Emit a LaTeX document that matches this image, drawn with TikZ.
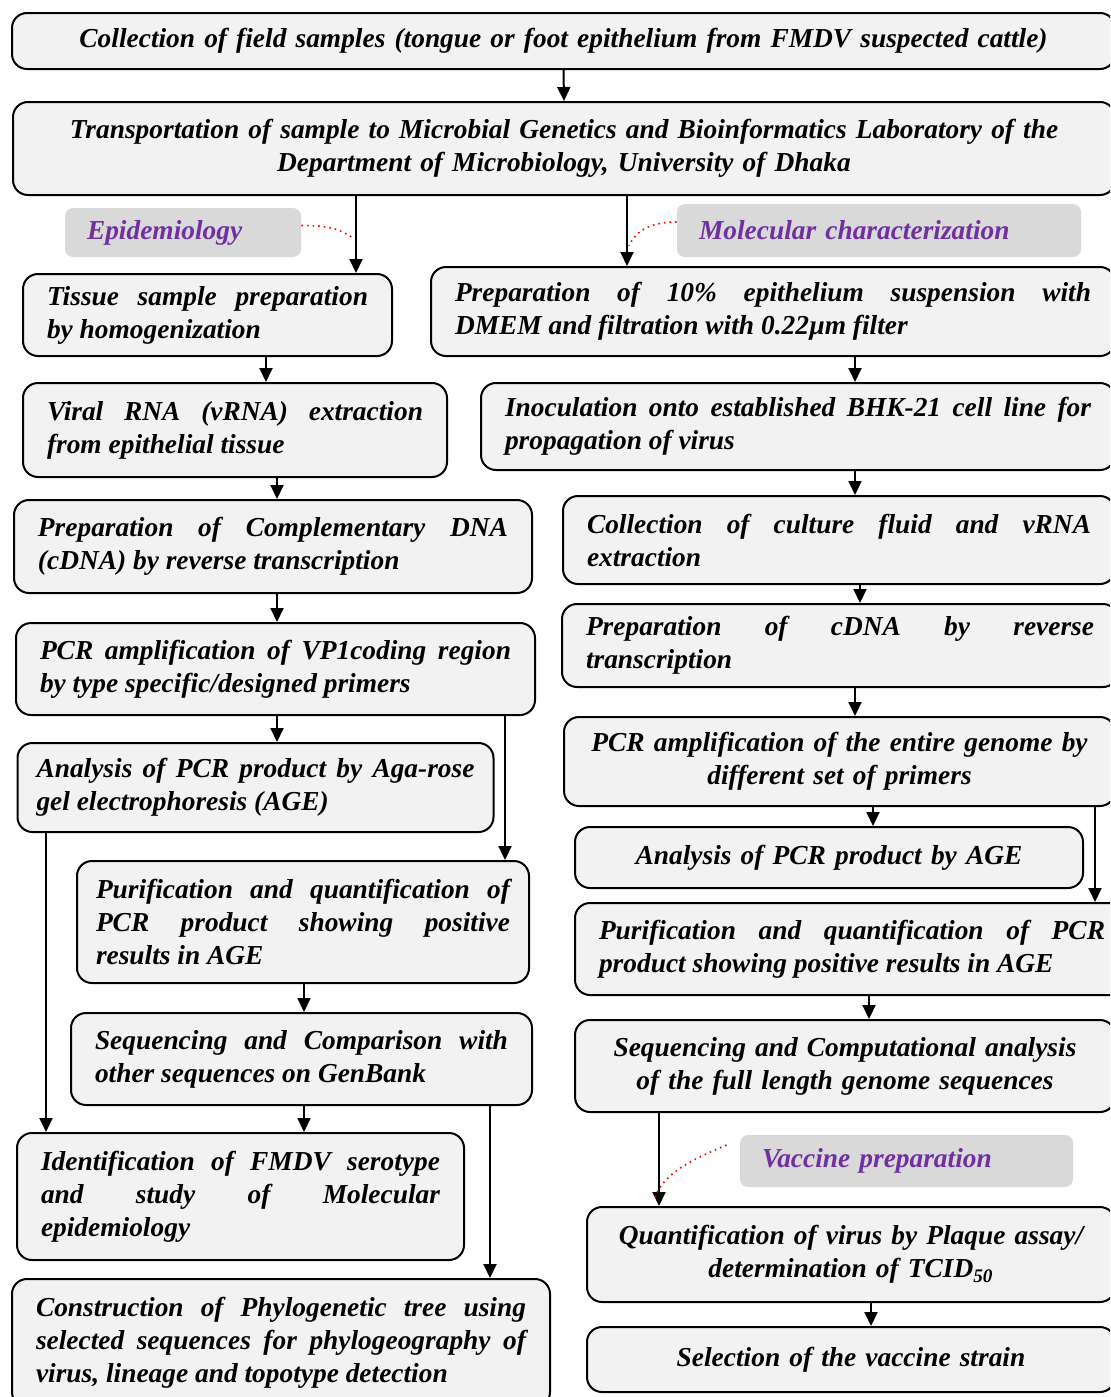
\documentclass[tikz,border=0pt]{standalone}
\usepackage{fontspec}
\setmainfont{Liberation Serif}[BoldItalicFont={Liberation Serif Bold Italic}]
\newfontfamily\stepfont{Liberation Serif Bold Italic}
\usetikzlibrary{arrows.meta,positioning,calc}
\definecolor{boxgray}{HTML}{F2F2F2}
\definecolor{taggray}{HTML}{D9D9D9}
\definecolor{tagpurple}{HTML}{7030A0}
\hyphenpenalty=10000
\exhyphenpenalty=10000

\begin{document}
\begin{tikzpicture}[
  x=0.5pt, y=-0.5pt,
  >={Triangle[length=7pt,width=6.5pt]},
  every node/.style={font=\fontsize{13.7}{16.5}\stepfont},
  box/.style={rounded corners=7.5pt, draw, line width=1pt, fill=boxgray, inner xsep=12pt, inner ysep=0pt},
  jbox/.style={box, align=justify},
  cbox/.style={box, align=center},
  tag/.style={rounded corners=4pt, fill=taggray, text=tagpurple, align=left, inner xsep=11pt, inner ysep=0pt},
  arr/.style={->, line width=1pt},
  note/.style={red, dotted, line width=0.8pt}
]
\useasboundingbox (0,0) rectangle (1110,1397);
\clip (0,0) rectangle (1110,1397);

% common steps
\node[cbox, text width=527.5pt, minimum height=28pt] (collect) at (563.5,41) {Collection of field samples (tongue or foot epithelium from FMDV suspected cattle)};
\node[cbox, text width=527pt, minimum height=46.5pt] (transport) at (564,148.5) {Transportation of sample to Microbial Genetics and Bioinformatics Laboratory of the\\ Department of Microbiology, University of Dhaka};

% section tags
\node[tag, text width=96pt, minimum height=24.5pt] (epi) at (183,232.5) {Epidemiology};
\node[tag, text width=180pt, minimum height=26.5pt] (mol) at (879,230.5) {Molecular characterization};
\node[tag, text width=144.5pt, minimum height=26pt] (vac) at (906.5,1161) {Vaccine preparation};

% epidemiology branch
\node[jbox, text width=160.5pt, minimum height=41pt] (tissue) at (207.5,315) {Tissue sample preparation\linebreak by homogenization};
\node[jbox, text width=188pt, minimum height=47pt] (viral) at (235,430) {Viral RNA (vRNA) extraction\linebreak from epithelial tissue};
\node[jbox, text width=235pt, minimum height=46.5pt] (cdna) at (273,546.5) {Preparation of Complementary DNA\linebreak (cDNA) by reverse transcription};
\node[jbox, text width=235.5pt, minimum height=46pt] (pcr) at (275.5,669) {PCR amplification of VP1coding region\linebreak by type specific/designed primers};
\node[jbox, text width=219pt, inner xsep=9.5pt, minimum height=44.5pt] (age) at (255.5,787.5) {Analysis of PCR product by Aga-rose\linebreak gel electrophoresis (AGE)};
\node[jbox, text width=207pt, inner xsep=9.5pt, minimum height=61pt] (purL) at (303,922) {Purification and quantification of\linebreak PCR product showing positive\linebreak results in AGE};
\node[jbox, text width=206.5pt, minimum height=46pt] (seqL) at (301.5,1059) {Sequencing and Comparison with\linebreak other sequences on GenBank};
\node[jbox, text width=199.5pt, minimum height=63.5pt] (ident) at (240.5,1196.5) {Identification of FMDV serotype\linebreak and study of Molecular\linebreak epidemiology};
\node[jbox, text width=245pt, minimum height=64pt] (constr) at (281,1343) {Construction of Phylogenetic tree using\linebreak selected sequences for phylogeography of\linebreak virus, lineage and topotype detection};

% molecular characterization branch
\node[jbox, text width=318pt, minimum height=44.5pt] (prep) at (773,311.5) {Preparation of 10\% epithelium suspension with\linebreak DMEM and filtration with 0.22µm filter};
\node[jbox, text width=293pt, minimum height=43.5pt] (inoc) at (798,426.5) {Inoculation onto established BHK-21 cell line for\linebreak propagation of virus};
\node[jbox, text width=252pt, minimum height=44pt] (fluid) at (839,540) {Collection of culture fluid and vRNA\linebreak extraction};
\node[jbox, text width=254pt, minimum height=41.5pt] (cdnaR) at (840,645.5) {Preparation of cDNA by reverse\linebreak transcription};
\node[cbox, text width=251.5pt, minimum height=44.5pt] (pcrR) at (839.5,761.5) {PCR amplification of the entire genome by\\ different set of primers};
\node[cbox, text width=230pt, minimum height=30.5pt] (ageR) at (829,857.5) {Analysis of PCR product by AGE};
\node[jbox, text width=253pt, minimum height=46pt] (purR) at (852,949) {Purification and quantification of PCR\linebreak product showing positive results in AGE};
\node[cbox, text width=246pt, minimum height=46pt] (seqR) at (845,1066) {Sequencing and Computational analysis\\ of the full length genome sequences};

% vaccine preparation
\node[cbox, text width=240pt, minimum height=47.5pt] (quant) at (851,1254.5) {Quantification of virus by Plaque assay/\\ determination of TCID\textsubscript{50}};
\node[cbox, text width=240pt, minimum height=32.5pt] (select) at (851,1359.5) {Selection of the vaccine strain};

% arrows
\draw[arr] (collect.south) -- (transport.north);
\draw[arr] (356,0 |- transport.south) -- (356,0 |- tissue.north);
\draw[arr] (627,0 |- transport.south) -- (627,0 |- prep.north);
\draw[arr] (266,0 |- tissue.south) -- (266,0 |- viral.north);
\draw[arr] (277,0 |- viral.south) -- (277,0 |- cdna.north);
\draw[arr] (277,0 |- cdna.south) -- (277,0 |- pcr.north);
\draw[arr] (277,0 |- pcr.south) -- (277,0 |- age.north);
\draw[arr] (505,0 |- pcr.south) -- (505,0 |- purL.north);
\draw[arr] (304,0 |- purL.south) -- (304,0 |- seqL.north);
\draw[arr] (46,0 |- age.south) -- (46,0 |- ident.north);
\draw[arr] (304,0 |- seqL.south) -- (304,0 |- ident.north);
\draw[arr] (490,0 |- seqL.south) -- (490,0 |- constr.north);
\draw[arr] (855,0 |- prep.south) -- (855,0 |- inoc.north);
\draw[arr] (855,0 |- inoc.south) -- (855,0 |- fluid.north);
\draw[arr] (860,0 |- fluid.south) -- (860,0 |- cdnaR.north);
\draw[arr] (855,0 |- cdnaR.south) -- (855,0 |- pcrR.north);
\draw[arr] (873,0 |- pcrR.south) -- (873,0 |- ageR.north);
\draw[arr] (1095,0 |- pcrR.south) -- (1095,0 |- purR.north);
\draw[arr] (869,0 |- purR.south) -- (869,0 |- seqR.north);
\draw[arr] (659,0 |- seqR.south) -- (659,0 |- quant.north);
\draw[arr] (871,0 |- quant.south) -- (871,0 |- select.north);

% dotted pointers from the tags
\coordinate (epiend) at (353,238);
\coordinate (molend) at (629,246);
\coordinate (vacend) at (655,1197);
\draw[note] ([yshift=3.5pt]epi.east) .. controls +(30,0) and +(-12,-8) .. (epiend);
\draw[note] ([yshift=4.25pt]mol.west) .. controls +(-30,0) and +(5,-12) .. (molend);
\draw[note] ([xshift=-6.5pt,yshift=8pt]vac.west) .. controls +(-35,15) and +(10,-25) .. (vacend);
\end{tikzpicture}
\end{document}
